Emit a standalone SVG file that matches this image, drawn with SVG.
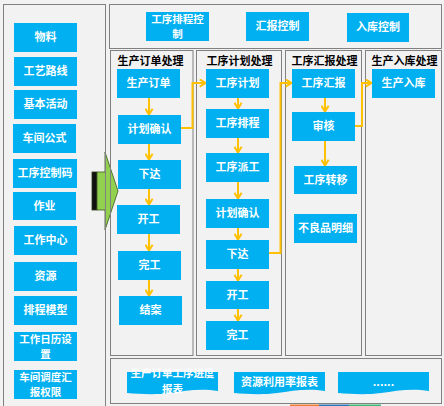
<svg xmlns="http://www.w3.org/2000/svg" width="444" height="406" viewBox="0 0 444 406">
<style>
.panel{fill:none;stroke:#808080;stroke-width:1}
.box{fill:#00b0f0}
.t{fill:#ffffff;font-family:"Noto Sans CJK SC","Microsoft YaHei",sans-serif;font-size:11px;font-weight:bold;text-anchor:middle}
.t2{font-size:10.5px}
.h{fill:#000000;font-family:"Noto Sans CJK SC","Microsoft YaHei",sans-serif;font-size:11px;font-weight:bold;text-anchor:middle}
.c{fill:none;stroke:#ffc000;stroke-width:2;marker-end:url(#ah)}
</style>
<defs>
<marker id="ah" viewBox="0 0 10 10" refX="8.5" refY="5" markerWidth="9" markerHeight="9" markerUnits="userSpaceOnUse" orient="auto">
<path d="M1.5,1 L8,5 L1.5,9" fill="none" stroke="#ffc000" stroke-width="2.2" stroke-linejoin="miter"/>
</marker>
</defs>
<rect x="0" y="0" width="444" height="406" fill="#f2f2f2"/>
<g id="fragment">
<rect x="290" y="404.5" width="29" height="1.5" fill="#ed7d31"/>
<rect x="319" y="404.5" width="30" height="1.5" fill="#2e75b6"/>
<rect x="349" y="404.5" width="32" height="1.5" fill="#3cb878"/>
</g>
<g id="bigarrow">
<rect x="92" y="172" width="5" height="38" fill="#111111" stroke="#2b3b14" stroke-width="0.8"/>
<polygon points="97,172 105,172 105,152 118,191 105,230 105,210 97,210" fill="#92d050" stroke="#3b5a1c" stroke-width="0.8"/>
</g>
<g id="panels">
<rect class="panel" x="3.5" y="4.5" width="102" height="410"/>
<rect class="panel" x="109.5" y="4.5" width="332" height="44"/>
<rect class="panel" x="110.5" y="50.5" width="82.5" height="305"/>
<rect class="panel" x="196.5" y="50.5" width="85" height="305"/>
<rect class="panel" x="285.5" y="50.5" width="76" height="305"/>
<rect class="panel" x="365.5" y="50.5" width="76" height="305"/>
<rect class="panel" x="110.5" y="358.5" width="331" height="45"/>
</g>
<g id="headers">
<text class="h" x="150.5" y="65">生产订单处理</text>
<text class="h" x="239.5" y="65">工序计划处理</text>
<text class="h" x="324.5" y="65">工序汇报处理</text>
<text class="h" x="404.5" y="65">生产入库处理</text>
</g>
<g id="connectors">
<line class="c" x1="149" y1="98" x2="149" y2="115"/>
<line class="c" x1="149" y1="144" x2="149" y2="160"/>
<line class="c" x1="149" y1="189" x2="149" y2="205"/>
<line class="c" x1="149" y1="234" x2="149" y2="251"/>
<line class="c" x1="149" y1="280" x2="149" y2="296"/>
<line class="c" x1="238" y1="98" x2="238" y2="109"/>
<line class="c" x1="238" y1="138" x2="238" y2="153"/>
<line class="c" x1="238" y1="182" x2="238" y2="199"/>
<line class="c" x1="238" y1="228" x2="238" y2="240"/>
<line class="c" x1="238" y1="269" x2="238" y2="281"/>
<line class="c" x1="238" y1="309" x2="238" y2="321"/>
<line class="c" x1="325" y1="98" x2="325" y2="112"/>
<line class="c" x1="325" y1="141" x2="325" y2="166"/>
<polyline class="c" points="181,128 192.5,128 192.5,83 206,83"/>
<polyline class="c" points="269,253 280.5,253 280.5,83 292,83"/>
<polyline class="c" points="355,126 362,126 362,83 372,83"/>
</g>
<g id="n-wuliao"><rect class="box" x="14" y="23" width="63" height="29"/><text class="t" x="45.5" y="41">物料</text></g>
<g id="n-gylx"><rect class="box" x="14" y="57" width="63" height="29"/><text class="t" x="45.5" y="75">工艺路线</text></g>
<g id="n-jbhd"><rect class="box" x="14" y="90" width="63" height="29"/><text class="t" x="45.5" y="108">基本活动</text></g>
<g id="n-cjgs"><rect class="box" x="13" y="124" width="63" height="29"/><text class="t" x="44.5" y="142">车间公式</text></g>
<g id="n-gxkzm"><rect class="box" x="13" y="159" width="64" height="29"/><text class="t" x="45" y="177">工序控制码</text></g>
<g id="n-zuoye"><rect class="box" x="13" y="192" width="63" height="28"/><text class="t" x="44.5" y="210">作业</text></g>
<g id="n-gzzx"><rect class="box" x="14" y="226" width="63" height="29"/><text class="t" x="45.5" y="244">工作中心</text></g>
<g id="n-ziyuan"><rect class="box" x="14" y="262" width="63" height="29"/><text class="t" x="45.5" y="280">资源</text></g>
<g id="n-pcmx"><rect class="box" x="14" y="296" width="63" height="29"/><text class="t" x="45.5" y="314">排程模型</text></g>
<g id="n-gzrl"><rect class="box" x="14" y="332" width="63" height="29"/><text class="t t2" x="45.5" y="342.6"><tspan x="45.5">工作日历设</tspan><tspan x="45.5" dy="15.4">置</tspan></text></g>
<g id="n-cjdd"><rect class="box" x="14" y="370" width="63" height="29"/><text class="t t2" x="45.5" y="380.6"><tspan x="45.5">车间调度汇</tspan><tspan x="45.5" dy="15.4">报权限</tspan></text></g>
<g id="n-gxpckz"><rect class="box" x="146" y="12" width="63" height="29"/><text class="t t2" x="177.5" y="22.6"><tspan x="177.5">工序排程控</tspan><tspan x="177.5" dy="15.4">制</tspan></text></g>
<g id="n-hbkz"><rect class="box" x="246" y="12" width="63" height="29"/><text class="t" x="277.5" y="30">汇报控制</text></g>
<g id="n-rkkz"><rect class="box" x="347" y="13" width="62" height="29"/><text class="t" x="378" y="31">入库控制</text></g>
<g id="n-scdd"><rect class="box" x="117" y="69" width="63" height="29"/><text class="t" x="148.5" y="87">生产订单</text></g>
<g id="n-jhqr1"><rect class="box" x="118" y="115" width="63" height="29"/><text class="t" x="149.5" y="133">计划确认</text></g>
<g id="n-xd1"><rect class="box" x="118" y="160" width="63" height="29"/><text class="t" x="149.5" y="178">下达</text></g>
<g id="n-kg1"><rect class="box" x="117" y="205" width="63" height="29"/><text class="t" x="148.5" y="223">开工</text></g>
<g id="n-wg1"><rect class="box" x="118" y="251" width="63" height="29"/><text class="t" x="149.5" y="269">完工</text></g>
<g id="n-ja"><rect class="box" x="119" y="296" width="63" height="29"/><text class="t" x="150.5" y="314">结案</text></g>
<g id="n-gxjh"><rect class="box" x="206" y="69" width="63" height="29"/><text class="t" x="237.5" y="87">工序计划</text></g>
<g id="n-gxpc"><rect class="box" x="206" y="109" width="63" height="29"/><text class="t" x="237.5" y="127">工序排程</text></g>
<g id="n-gxpg"><rect class="box" x="206" y="153" width="63" height="29"/><text class="t" x="237.5" y="171">工序派工</text></g>
<g id="n-jhqr2"><rect class="box" x="206" y="199" width="63" height="29"/><text class="t" x="237.5" y="217">计划确认</text></g>
<g id="n-xd2"><rect class="box" x="206" y="240" width="63" height="29"/><text class="t" x="237.5" y="258">下达</text></g>
<g id="n-kg2"><rect class="box" x="206" y="281" width="63" height="28"/><text class="t" x="237.5" y="299">开工</text></g>
<g id="n-wg2"><rect class="box" x="206" y="321" width="63" height="29"/><text class="t" x="237.5" y="339">完工</text></g>
<g id="n-gxhb"><rect class="box" x="292" y="69" width="63" height="29"/><text class="t" x="323.5" y="87">工序汇报</text></g>
<g id="n-sh"><rect class="box" x="292" y="112" width="63" height="29"/><text class="t" x="323.5" y="130">审核</text></g>
<g id="n-gxzy"><rect class="box" x="294" y="166" width="63" height="28"/><text class="t" x="325.5" y="184">工序转移</text></g>
<g id="n-blp"><rect class="box" x="294" y="214" width="63" height="29"/><text class="t" x="325.5" y="232">不良品明细</text></g>
<g id="n-scrk"><rect class="box" x="372" y="69" width="63" height="29"/><text class="t" x="403.5" y="87">生产入库</text></g>
<g id="n-bb1"><path class="box" d="M127,372 H218 V391 C200,388 185,391 170,393 C155,395 140,394 127,393 Z"/><text class="t t2" x="172.5" y="377.3"><tspan x="172.5">生产订单工序进度</tspan><tspan x="172.5" dy="15.4">报表</tspan></text></g>
<g id="n-bb2"><path class="box" d="M234,372 H325 V391 C307,388 292,391 277,393 C262,395 247,394 234,393 Z"/><text class="t" x="279.5" y="386">资源利用率报表</text></g>
<g id="n-bb3"><path class="box" d="M338,372 H429 V391 C411,388 396,391 381,393 C366,395 351,394 338,393 Z"/><text class="t" x="383.5" y="386">......</text></g>
</svg>
